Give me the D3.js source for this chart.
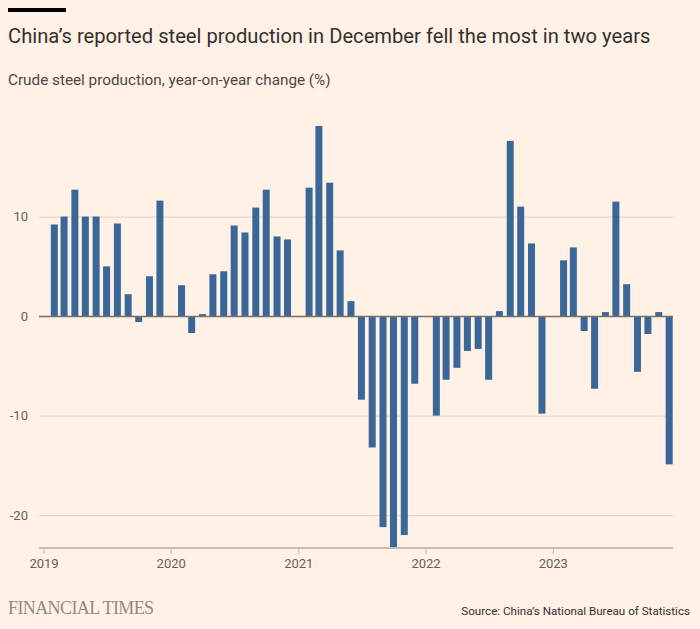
<!DOCTYPE html>
<html>
<head>
<meta charset="utf-8">
<script src="https://cdn.jsdelivr.net/npm/d3@7"></script>
<style>
  html, body { margin: 0; padding: 0; background: #fff1e5; }
  svg { display: block; }
</style>
</head>
<body>
<svg id="chart" width="700" height="629"></svg>
<script>
const months = [
  "2019-02","2019-03","2019-04","2019-05","2019-06","2019-07","2019-08","2019-09","2019-10","2019-11","2019-12",
  "2020-02","2020-03","2020-04","2020-05","2020-06","2020-07","2020-08","2020-09","2020-10","2020-11","2020-12",
  "2021-02","2021-03","2021-04","2021-05","2021-06","2021-07","2021-08","2021-09","2021-10","2021-11","2021-12",
  "2022-02","2022-03","2022-04","2022-05","2022-06","2022-07","2022-08","2022-09","2022-10","2022-11","2022-12",
  "2023-02","2023-03","2023-04","2023-05","2023-06","2023-07","2023-08","2023-09","2023-10","2023-11","2023-12"
];
const values = [
  9.2, 10.0, 12.7, 10.0, 10.0, 5.0, 9.3, 2.2, -0.6, 4.0, 11.6,
  3.1, -1.7, 0.2, 4.2, 4.5, 9.1, 8.4, 10.9, 12.7, 8.0, 7.7,
  12.9, 19.1, 13.4, 6.6, 1.5, -8.4, -13.2, -21.2, -23.3, -22.0, -6.8,
  -10.0, -6.4, -5.2, -3.5, -3.3, -6.4, 0.5, 17.6, 11.0, 7.3, -9.8,
  5.6, 6.9, -1.5, -7.3, 0.4, 11.5, 3.2, -5.6, -1.8, 0.4, -14.9
];
const yTicks = [-20, -10, 0, 10];
const xTickYears = ["2019", "2020", "2021", "2022", "2023"];

const title = "China\u2019s reported steel production in December fell the most in two years";
const subtitle = "Crude steel production, year-on-year change (%)";
const source = "Source: China\u2019s National Bureau of Statistics";
const brand = "FINANCIAL TIMES";

const svg = d3.select("#chart");
const parseMonth = d3.timeParse("%Y-%m");
const parseYear = d3.timeParse("%Y");

const left = 39, right = 673;
const x = d3.scaleTime()
  .domain([parseYear("2019"), parseYear("2024")])
  .range([43.5, 680]);
const y = d3.scaleLinear()
  .domain([-23.3, 20])
  .range([548, 117]);

svg.append("rect").attr("width", 700).attr("height", 629).attr("fill", "#fff1e5");

// top black bar
svg.append("rect").attr("x", 8).attr("y", 8).attr("width", 58).attr("height", 4).attr("fill", "#000");

function fit(sel, target) {
  const w = sel.node().getComputedTextLength();
  const fs = parseFloat(sel.attr("font-size"));
  sel.attr("font-size", fs * target / w);
}

const t = svg.append("text").attr("x", 8).attr("y", 43)
  .attr("font-family", "Roboto, 'Noto Sans', sans-serif").attr("font-size", 20)
  .attr("fill", "#33302e").text(title);
fit(t, 643);

const st = svg.append("text").attr("x", 8).attr("y", 85)
  .attr("font-family", "Roboto, 'Noto Sans', sans-serif").attr("font-size", 14)
  .attr("fill", "#4d4845").text(subtitle);
fit(st, 323);

// bars
const data = months.map((m, i) => ({ date: parseMonth(m), value: values[i] }));
const barW = 7;
svg.append("g").selectAll("rect").data(data).join("rect")
  .attr("x", d => x(d.date) - barW / 2)
  .attr("width", barW)
  .attr("y", d => y(Math.max(0, d.value)))
  .attr("height", d => Math.abs(y(d.value) - y(0)))
  .attr("fill", "#396898");

// gridlines
const yAxis = d3.axisLeft(y).tickValues(yTicks).tickSize(0).tickPadding(11)
  .tickFormat(d => d < 0 ? "-" + Math.abs(d) : d);
const gy = svg.append("g").attr("transform", `translate(${left},0)`).call(yAxis);
gy.select(".domain").remove();
gy.selectAll("text").attr("font-family", "Roboto, 'Noto Sans', sans-serif").attr("font-size", 13).attr("fill", "#66605c");
gy.selectAll(".tick").append("line")
  .attr("x1", 0).attr("x2", right - left)
  .attr("stroke", d => d === 0 ? "#7a706a" : "rgba(102,96,92,0.16)")
  .attr("stroke-width", d => d === 0 ? 1.5 : 1.2);

// x axis
const xAxis = d3.axisBottom(x)
  .tickValues(xTickYears.map(parseYear))
  .tickSize(6).tickPadding(5)
  .tickFormat(d3.timeFormat("%Y"));
const gx = svg.append("g").attr("transform", "translate(0,548)").call(xAxis);
gx.select(".domain").remove();
gx.append("line").attr("x1", left).attr("x2", right).attr("stroke", "#c9bdb3").attr("stroke-width", 2);
gx.selectAll(".tick line").attr("stroke", "#c9bdb3").attr("stroke-width", 1.2);
gx.selectAll(".tick text").attr("font-family", "Roboto, 'Noto Sans', sans-serif").attr("font-size", 13).attr("fill", "#66605c");

// footer
const ft = svg.append("text").attr("x", 8).attr("y", 614)
  .attr("font-family", "'Liberation Serif', 'DejaVu Serif', serif").attr("font-size", 17)
  .attr("fill", "#8f8a86").attr("letter-spacing", -0.6).text(brand);
fit(ft, 145);

const src = svg.append("text").attr("x", 690).attr("y", 615).attr("text-anchor", "end")
  .attr("font-family", "Roboto, 'Noto Sans', sans-serif").attr("font-size", 12)
  .attr("fill", "#33302e").text(source);
fit(src, 229);
</script>
</body>
</html>
